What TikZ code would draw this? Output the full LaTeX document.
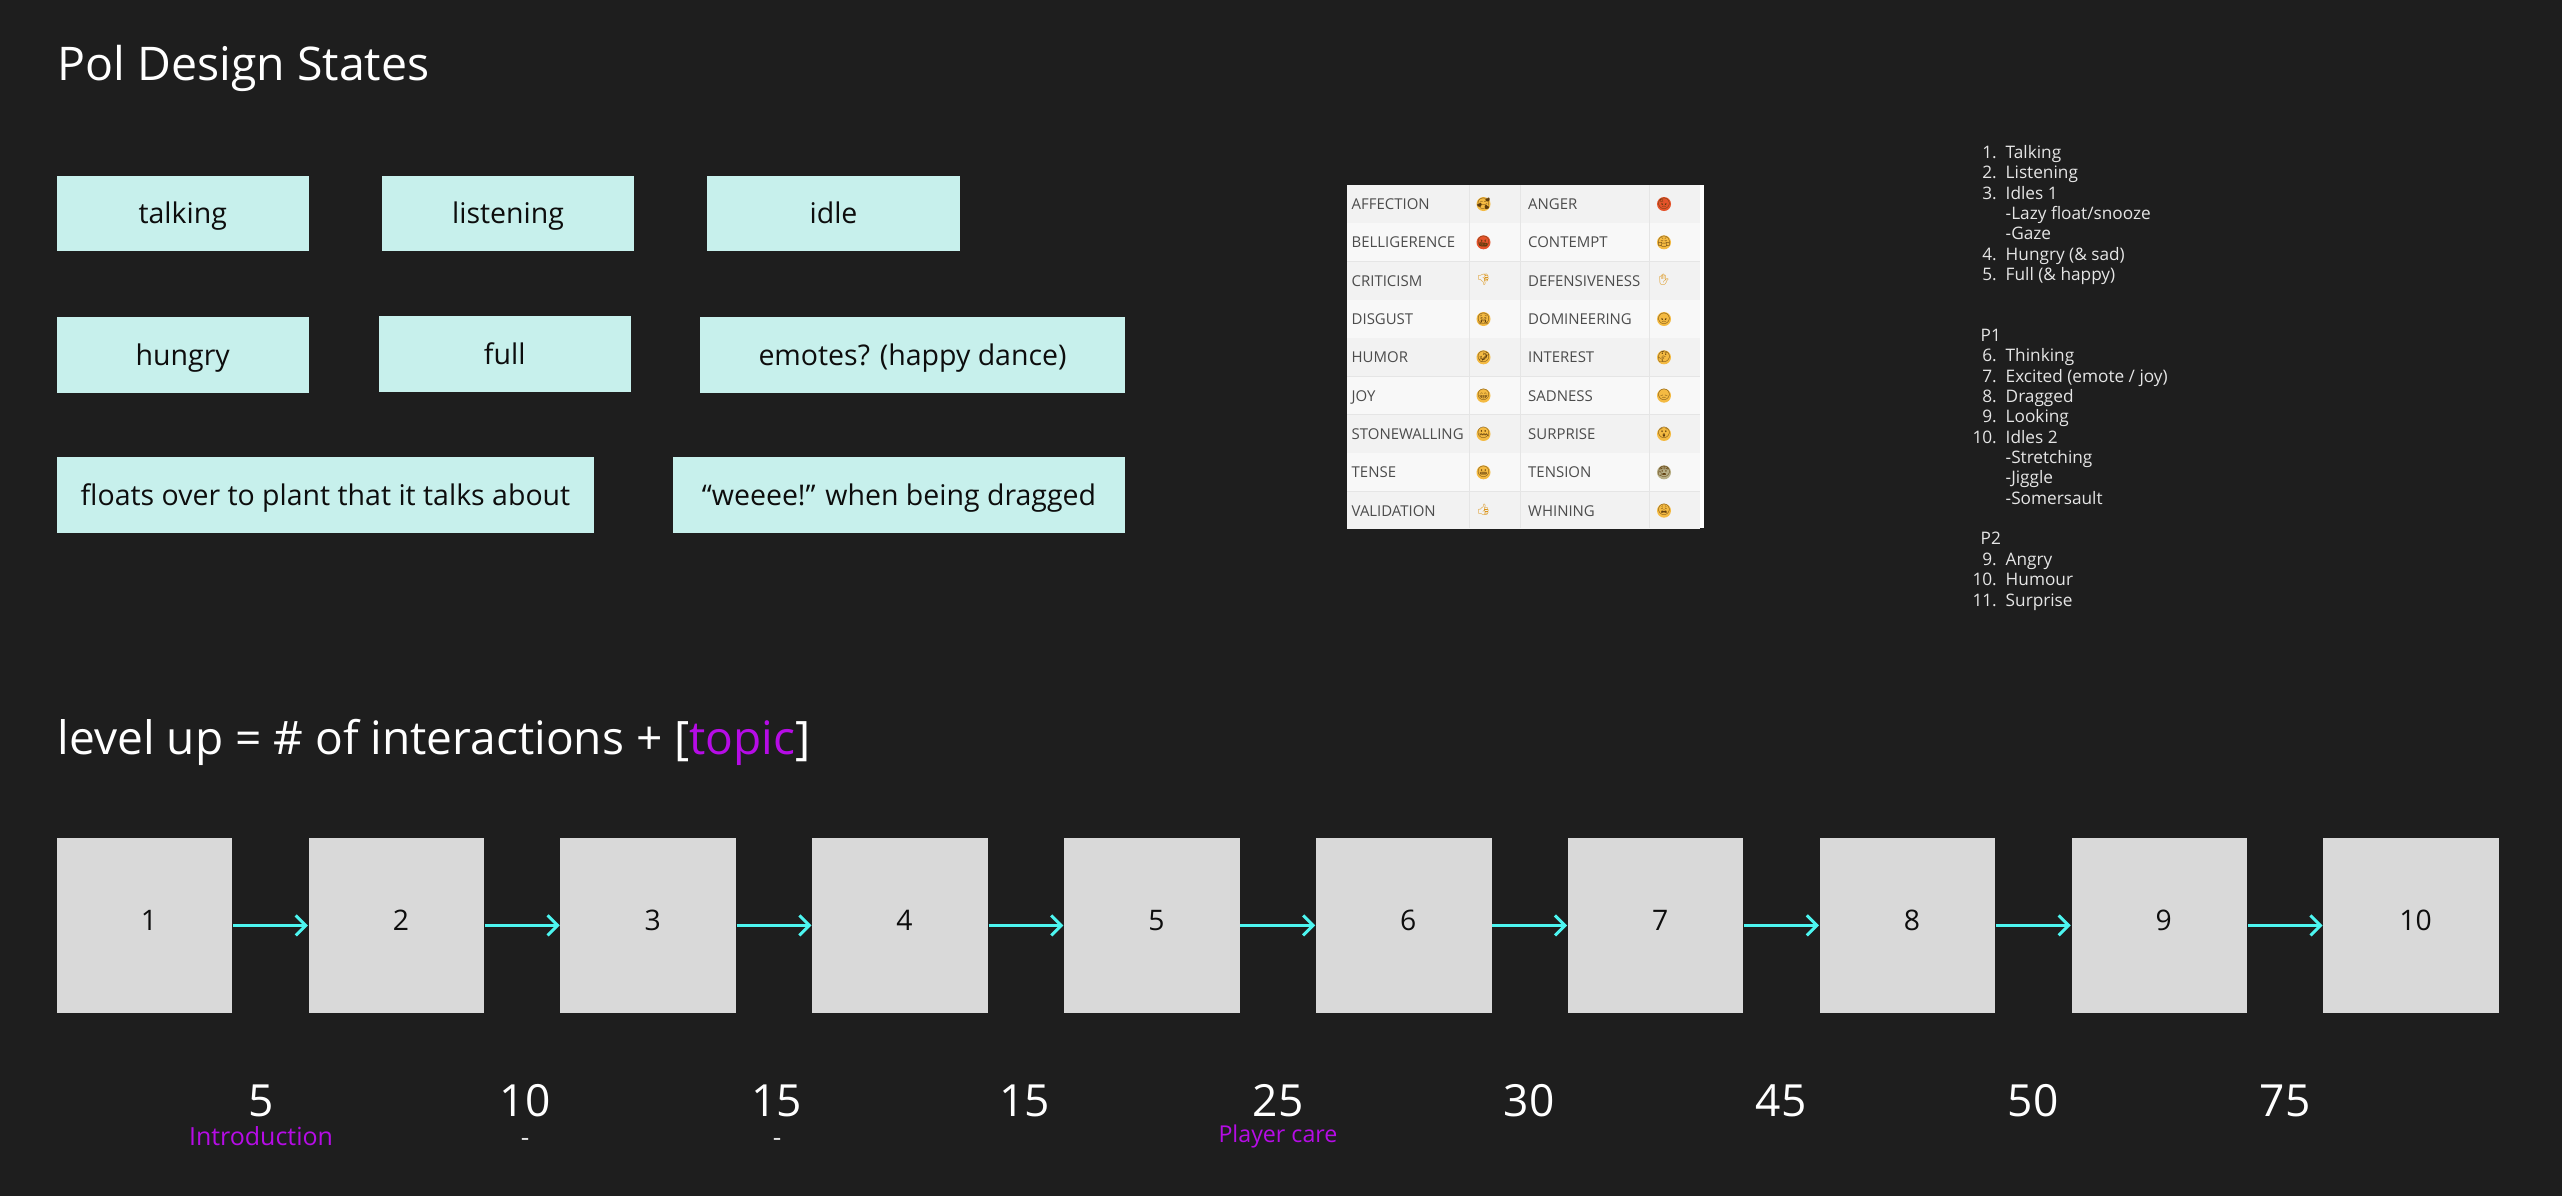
\documentclass[tikz,border=0pt]{standalone}
\usepackage{fontspec}
\setmainfont{Open Sans}
\newfontfamily\emojifont{Noto Emoji}
\usetikzlibrary{arrows.meta}
\definecolor{pagedark}{HTML}{1E1E1E}
\definecolor{statemint}{HTML}{C7F0EC}
\definecolor{levelgrey}{HTML}{D9D9D9}
\definecolor{arrowcyan}{HTML}{4DF5F0}
\definecolor{topicpurple}{HTML}{B60CE6}
\definecolor{faceyellow}{HTML}{F4BA42}
\definecolor{facered}{HTML}{E5532B}
\definecolor{faceblue}{HTML}{B7AE86}
\definecolor{handyellow}{HTML}{D98A00}
\definecolor{glyphbrown}{HTML}{5E3C0C}
\tikzset{
	headline/.style={anchor=base west, inner sep=0, text=white, font=\fontsize{13.2}{15}\selectfont},
	statebox/.style={fill=statemint, text=black!95, inner sep=0, minimum height=0.757cm, text height=0.27cm, text depth=0.07cm, font=\fontsize{8.1}{10}\selectfont},
	levelbox/.style={fill=levelgrey, inner sep=0, minimum size=1.755cm},
	leveltext/.style={anchor=base, inner sep=0, text=black!95, font=\fontsize{8.05}{10}\selectfont},
	levelarrow/.style={arrowcyan, line width=0.025cm, -{Straight Barb[length=0.1cm, width=0.2cm, line width=0.03cm]}},
	costtext/.style={anchor=base, inner sep=0, text=white, font=\fontsize{12.6}{15}\selectfont},
	notetext/.style={anchor=base, inner sep=0, text=white!90!black, font=\fontsize{7.5}{9}\selectfont},
	topictext/.style={anchor=base, inner sep=0, text=topicpurple, font=\fontsize{6.6}{8}\selectfont},
	feeltext/.style={anchor=base west, inner sep=0, text=black!70, font=\fontsize{4.25}{5}\selectfont},
	emojiface/.style={rounded corners=0.07cm, fill=#1, text=glyphbrown, inner sep=0, minimum size=0.14cm, text height=0.09cm, text depth=0.03cm, font=\emojifont\fontsize{3.1}{4}\selectfont},
	listnum/.style={anchor=base east, inner sep=0, text=white!90!black, font=\fontsize{4.9}{6}\selectfont},
	listtext/.style={anchor=base west, inner sep=0, text=white!90!black, font=\fontsize{4.9}{6}\selectfont},
}

\begin{document}
\begin{tikzpicture}[x=0.01cm, y=-0.01cm]
	%%%%% START %%%%%

	\path[use as bounding box, fill=pagedark] (0, 0) rectangle (2562, 1196);

	\node[headline] (title) at (57, 80) {Pol Design States};

	\node[statebox, minimum width=2.52cm] (talking) at (182.7, 213.5) {talking};
	\node[statebox, minimum width=2.52cm] (listening) at (508, 213.5) {listening};
	\node[statebox, minimum width=2.52cm] (idle) at (833.5, 213.5) {idle};
	\node[statebox, minimum width=2.52cm] (hungry) at (182.7, 355) {hungry};
	\node[statebox, minimum width=2.52cm] (full) at (504.7, 354) {full};
	\node[statebox, minimum width=4.24cm] (emotes) at (912.5, 355) {emotes? (happy dance)};
	\node[statebox, minimum width=5.37cm] (floats) at (325.5, 495) {floats over to plant that it talks about};
	\node[statebox, minimum width=4.52cm] (weeee) at (899, 495) {“weeee!” when being dragged};

	% emotion table
	\fill[white] (1347, 185) rectangle (1704, 528);
	\begin{scope}
		\clip (1347, 185) rectangle (1700, 528);
		\foreach \r/\shade in {0/F2F2F2, 1/F8F8F8, 2/F2F2F2, 3/F8F8F8, 4/F2F2F2, 5/F8F8F8, 6/F2F2F2, 7/F8F8F8, 8/F2F2F2} {
			\definecolor{rowshade}{HTML}{\shade}
			\fill[rowshade] (1347, 185+38.33*\r) rectangle (1700, 185+38.33*\r+38.33);
			\draw[black!10, line width=0.01cm] (1347, 185+38.33*\r+38.33) -- (1700, 185+38.33*\r+38.33);
		}
		\foreach \c in {1469, 1520, 1649}
			\draw[black!10, line width=0.01cm] (\c, 185) -- (\c, 528);
	\end{scope}

	\foreach \r/\a/\ae/\af/\b/\be/\bf in {
		0/AFFECTION/🥰/faceyellow/ANGER/😡/facered,
		1/BELLIGERENCE/🤬/facered/CONTEMPT/😤/faceyellow,
		2/CRITICISM/{\textcolor{handyellow}{👎}}/none/DEFENSIVENESS/{\textcolor{handyellow}{✋}}/none,
		3/DISGUST/🤮/faceyellow/DOMINEERING/😠/faceyellow,
		4/HUMOR/🤣/faceyellow/INTEREST/🤔/faceyellow,
		5/JOY/😁/faceyellow/SADNESS/😞/faceyellow,
		6/STONEWALLING/🤐/faceyellow/SURPRISE/😲/faceyellow,
		7/TENSE/😬/faceyellow/TENSION/😰/faceblue,
		8/VALIDATION/{\textcolor{handyellow}{👍}}/none/WHINING/😩/faceyellow} {
		\node[feeltext] (feela\r) at (1351, 209.5+38.33*\r) {\a};
		\node[emojiface=\af] (facea\r) at (1483.5, 204+38.33*\r) {\ae};
		\node[feeltext] (feelb\r) at (1527.5, 209.5+38.33*\r) {\b};
		\node[emojiface=\bf] (faceb\r) at (1664, 204+38.33*\r) {\be};
	}

	% state list
	\foreach \i/\n/\t in {0/1./Talking, 1/2./Listening, 2/3./Idles 1, 5/4./Hungry (\& sad), 6/5./Full (\& happy),
		10/6./Thinking, 11/7./{Excited (emote / joy)}, 12/8./Dragged, 13/9./Looking, 14/10./Idles 2,
		20/9./Angry, 21/10./Humour, 22/11./Surprise} {
		\node[listnum] (num\i) at (1997.5, 158.3+20.35*\i) {\n};
		\node[listtext] (item\i) at (2005, 158.3+20.35*\i) {\t};
	}
	\foreach \i/\t in {3/{-Lazy float/snooze}, 4/-Gaze, 15/-Stretching, 16/-Jiggle, 17/-Somersault}
		\node[listtext] (item\i) at (2005, 158.3+20.35*\i) {\t};
	\node[listtext] (pone) at (1980, 158.3+20.35*9) {P1};
	\node[listtext] (ptwo) at (1980, 158.3+20.35*19) {P2};

	\node[headline, font=\fontsize{13.1}{15}\selectfont] (levelup) at (57, 754) {level up = \# of interactions + [\textcolor{topicpurple}{topic}]};

	% levels
	\foreach \n in {1,...,10} {
		\node[levelbox] (level\n) at (144.5+251.85*\n-251.85, 925.4) {};
		\node[leveltext] (digit\n) at (149+251.85*\n-251.85, 930) {\n};
	}
	\foreach \n [remember=\n as \p (initially 1)] in {2,...,10}
		\draw[levelarrow] (level\p) -- (level\n);

	\foreach \x/\v in {261/5, 525/10, 776.7/15, 1024.5/15, 1278/25, 1529/30, 1781/45, 2033/50, 2285/75}
		\node[costtext] (cost\x) at (\x, 1116) {\v};

	\node[topictext, font=\fontsize{7.1}{8}\selectfont] (intro) at (261, 1145) {Introduction};
	\node[notetext] (dasha) at (525, 1146) {-};
	\node[notetext] (dashb) at (777, 1146) {-};
	\node[topictext] (care) at (1278, 1142.7) {Player care};

	%%%%% END %%%%%
\end{tikzpicture}
\end{document}
